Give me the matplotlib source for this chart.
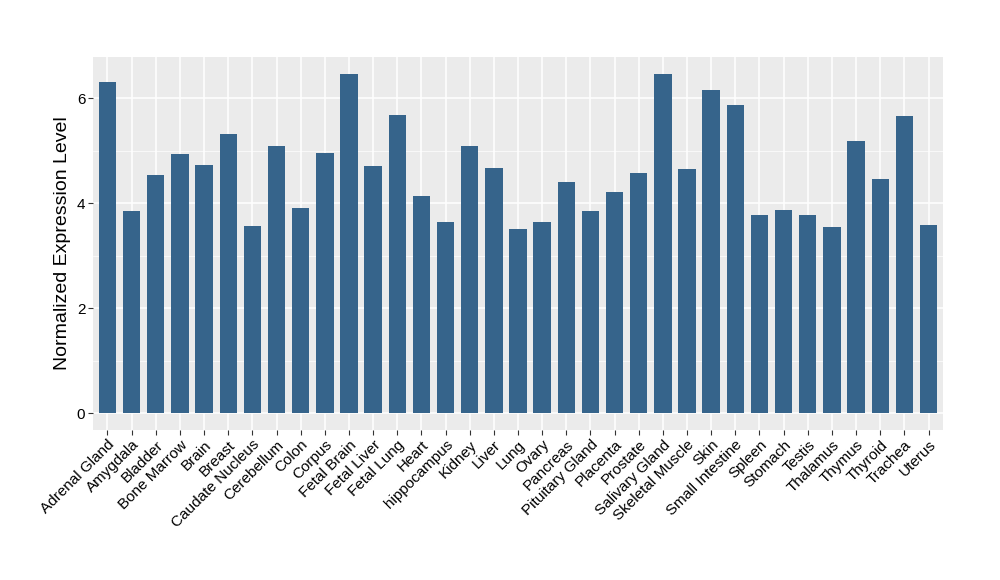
import matplotlib
matplotlib.use("Agg")
import matplotlib.pyplot as plt
import numpy as np

plt.rcParams['font.family'] = ['Liberation Sans', 'DejaVu Sans']

tissues = ["Adrenal Gland", "Amygdala", "Bladder", "Bone Marrow", "Brain", "Breast",
           "Caudate Nucleus", "Cerebellum", "Colon", "Corpus", "Fetal Brain", "Fetal Liver",
           "Fetal Lung", "Heart", "hippocampus", "Kidney", "Liver", "Lung", "Ovary",
           "Pancreas", "Pituitary Gland", "Placenta", "Prostate", "Salivary Gland",
           "Skeletal Muscle", "Skin", "Small Intestine", "Spleen", "Stomach", "Testis",
           "Thalamus", "Thymus", "Thyroid", "Trachea", "Uterus"]
expression = [6.31, 3.85, 4.54, 4.94, 4.73, 5.32,
              3.57, 5.09, 3.91, 4.96, 6.46, 4.71,
              5.68, 4.14, 3.64, 5.09, 4.67, 3.51, 3.64,
              4.41, 3.85, 4.22, 4.58, 6.46,
              4.65, 6.16, 5.87, 3.78, 3.87, 3.78,
              3.55, 5.19, 4.46, 5.66, 3.59]
y_ticks = [0, 2, 4, 6]

fig = plt.figure(figsize=(10, 5.8), dpi=100)
ax = fig.add_axes([0.093, 0.2586, 0.85, 0.6431])
ax.set_facecolor("#EBEBEB")

x = np.arange(len(tissues))
ax.bar(x, expression, width=0.72, color="#36648B", zorder=3)

ymax = max(expression)
pad = 0.05 * ymax
ax.set_ylim(-pad, ymax + pad)
ax.set_xlim(-0.6, len(tissues) - 0.4)

ax.set_yticks(y_ticks)
ax.set_yticks([1, 3, 5], minor=True)
ax.set_xticks(x)
ax.set_xticklabels(tissues, rotation=45, ha="right", va="top", rotation_mode="anchor", fontsize=11)
ax.tick_params(axis="y", labelsize=11)
ax.tick_params(which="major", length=3.5, color="#333333", width=0.8, pad=2)
ax.tick_params(which="minor", length=0)

ax.grid(which="major", color="white", linewidth=1.1, zorder=0)
ax.grid(which="minor", axis="y", color="white", linewidth=0.5, zorder=0)
ax.set_axisbelow(True)
for s in ax.spines.values():
    s.set_visible(False)

ax.set_ylabel("Normalized Expression Level", fontsize=14, labelpad=4)

fig.savefig("out.png", dpi=100)
